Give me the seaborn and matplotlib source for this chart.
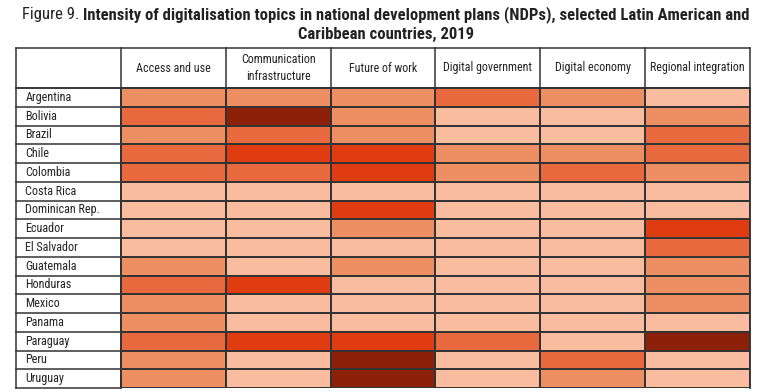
import numpy as np
import pandas as pd
import seaborn as sns
import matplotlib.pyplot as plt
from matplotlib import font_manager
from matplotlib.colors import ListedColormap

countries = ["Argentina", "Bolivia", "Brazil", "Chile", "Colombia", "Costa Rica",
             "Dominican Rep.", "Ecuador", "El Salvador", "Guatemala", "Honduras",
             "Mexico", "Panama", "Paraguay", "Peru", "Uruguay"]
topics = ["Access and use", "Communication\ninfrastructure", "Future of work",
          "Digital government", "Digital economy", "Regional integration"]

# intensity level 1 (low) .. 5 (high)
access = [2, 3, 2, 3, 3, 1, 1, 1, 1, 2, 3, 2, 2, 3, 2, 2]
comm_infra = [2, 5, 3, 4, 3, 1, 1, 1, 1, 1, 4, 1, 1, 4, 1, 1]
future_work = [2, 2, 2, 4, 4, 1, 4, 2, 1, 2, 1, 1, 1, 4, 5, 5]
digital_gov = [3, 1, 1, 2, 2, 1, 1, 1, 1, 1, 1, 1, 1, 3, 1, 1]
digital_econ = [2, 1, 1, 2, 3, 1, 1, 1, 1, 1, 1, 1, 1, 1, 3, 2]
regional = [1, 2, 3, 3, 2, 1, 1, 4, 3, 2, 2, 2, 1, 5, 1, 1]

level_colors = ["#f9bc9f", "#ee8f63", "#e8693e", "#e03c11", "#8c2008"]

df = pd.DataFrame({
    topics[0]: access,
    topics[1]: comm_infra,
    topics[2]: future_work,
    topics[3]: digital_gov,
    topics[4]: digital_econ,
    topics[5]: regional,
}, index=countries)

# pick a narrow face if there is one
fonts = font_manager.fontManager.ttflist
names = {f.name for f in fonts}
stretch = "normal"
if "Roboto Condensed" in names:
    family = "Roboto Condensed"
elif "Liberation Sans Narrow" in names:
    family = "Liberation Sans Narrow"
elif any(f.name == "DejaVu Sans" and f.stretch == "condensed" for f in fonts):
    family = "DejaVu Sans"
    stretch = "condensed"
else:
    family = "Roboto"
plt.rcParams["font.family"] = [family, "DejaVu Sans"]
plt.rcParams["font.stretch"] = stretch
text_col = "#222222"
line_col = "#333333"

fig = plt.figure(figsize=(7.72, 3.92), dpi=100)
W, H = 772, 392
renderer = fig.canvas.get_renderer()


def fit_size(s, target_px, cap, bold=False):
    t = fig.text(0, 0, s, fontsize=10, fontweight="bold" if bold else "normal")
    w = t.get_window_extent(renderer).width
    t.remove()
    return min(cap, 10 * target_px / w)


lab_size = fit_size("Dominican Rep.", 75, 9.5)
hdr_size = min(lab_size, fit_size("Regional integration", 95, 9.5))

left, right, top, bottom = 16, 750, 48, 388
ax = fig.add_axes([left / W, 1 - bottom / H, (right - left) / W, (bottom - top) / H])

sns.heatmap(df, ax=ax, cmap=ListedColormap(level_colors), vmin=0.5, vmax=5.5,
            cbar=False, xticklabels=False, yticklabels=False,
            linewidths=1.1, linecolor=line_col)

row_h = (bottom - top - 40) / len(countries)
hdr = 40 / row_h
ncol = len(topics)
nrow = len(countries)
ax.set_xlim(-1, ncol)
ax.set_ylim(nrow, -hdr)
ax.set_xlabel("")
ax.set_ylabel("")
for s in ax.spines.values():
    s.set_visible(False)

# grid for the label column and header
kw = dict(color=line_col, lw=1.1, clip_on=False)
for i in range(nrow + 1):
    ax.plot([-1, 0], [i, i], **kw)
for j in range(-1, ncol + 1):
    ax.plot([j, j], [-hdr, 0 if 0 < j < ncol else nrow], **kw)
ax.plot([-1, ncol], [-hdr, -hdr], **kw)
ax.plot([-1, ncol], [0, 0], **kw)
ax.plot([ncol, ncol], [0, nrow], **kw)

for i, name in enumerate(countries):
    ax.text(-1 + 0.09, i + 0.5, name, ha="left", va="center", fontsize=lab_size, color=text_col)
for j, t in enumerate(topics):
    ax.text(j + 0.5, -hdr / 2, t, ha="center", va="center", fontsize=hdr_size,
            color=text_col, linespacing=1.35)

# title: regular prefix + bold text
prefix = "Figure 9. "
line1 = "Intensity of digitalisation topics in national development plans (NDPs), selected Latin American and"
line2 = "Caribbean countries, 2019"
tsize = 12
t_a = fig.text(0, 1 - 15 / H, prefix, fontsize=tsize, color=text_col, va="center")
t_b = fig.text(0, 1 - 15 / H, line1, fontsize=tsize, color=text_col, va="center", fontweight="bold")
wa = t_a.get_window_extent(renderer).width
wb = t_b.get_window_extent(renderer).width
scale = min(1.0, 735 / (wa + wb))
tsize = tsize * scale
t_a.set_fontsize(tsize)
t_b.set_fontsize(tsize)
wa = t_a.get_window_extent(renderer).width
wb = t_b.get_window_extent(renderer).width
x0 = (W / 2 - (wa + wb) / 2)
t_a.set_x(x0 / W)
t_b.set_x((x0 + wa) / W)
fig.text(0.5, 1 - 34 / H, line2, fontsize=tsize, color=text_col, va="center",
         ha="center", fontweight="bold")

fig.savefig("out.png", dpi=100, facecolor="white")
